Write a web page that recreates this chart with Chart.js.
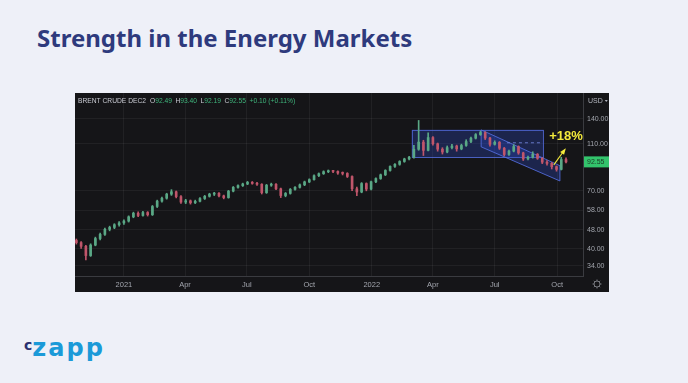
<!DOCTYPE html>
<html><head><meta charset="utf-8">
<script src="https://cdn.jsdelivr.net/npm/chart.js@4.4.0/dist/chart.umd.min.js"></script>
<style>
html,body{margin:0;padding:0;}
body{width:688px;height:383px;background:#eef0f8;position:relative;overflow:hidden;font-family:"Noto Sans",sans-serif;}
#title{position:absolute;left:37px;top:26px;font-size:24px;line-height:24px;font-weight:700;color:#2e3a7d;white-space:nowrap;}
#box{position:absolute;left:75px;top:93px;width:534px;height:199px;background:#151518;}
#logo{position:absolute;left:24px;top:334px;white-space:nowrap;font-family:"DejaVu Sans",sans-serif;font-weight:700;}
#logo .c{font-size:14px;color:#2b3170;vertical-align:6px;}
#logo .z{font-size:24px;color:#1b9ad8;letter-spacing:2px;}
</style></head>
<body>
<div id="title">Strength in the Energy Markets</div>
<div id="box"><canvas id="c" width="534" height="199"></canvas></div>
<div id="logo"><span class="c">c</span><span class="z">zapp</span></div>
<script>
// weekly candles, x = days from 2021-01-01
const firstDay = -70, stepDays = 7;
const open = [43.4,42.5,41.0,37.5,41.5,44.2,46.0,48.3,49.2,50.5,
51.4,52.3,54.5,56.4,55.2,56.8,55.6,60.2,63.4,65.2,
67.8,69.4,66.2,62.8,63.6,62.4,63.3,65.0,66.4,67.8,
68.4,66.7,65.6,69.8,72.4,73.6,74.8,76.0,75.2,74.6,
68.8,73.9,74.6,71.4,66.9,68.3,71.0,72.4,74.2,76.3,
78.0,81.0,82.6,84.2,84.9,84.4,83.1,82.8,80.4,71.4,
69.2,75.1,71.2,76.4,78.8,81.7,85.2,88.6,90.4,92.9,
95.2,96.8,104.5,112.0,103.4,117.0,110.2,104.6,101.8,106.2,
107.8,104.9,108.4,112.6,116.3,120.4,122.8,116.5,109.6,111.8,
105.6,99.4,102.7,107.3,100.9,95.2,96.8,99.6,95.8,92.3,
91.2,88.4,86.1,94.7];
const high = [44.0,42.9,41.4,42.0,44.8,46.6,48.9,49.8,51.0,52.0,
52.9,55.0,57.0,57.2,57.4,57.3,60.8,64.0,65.9,68.4,
70.8,69.9,66.8,64.5,64.1,64.0,65.6,67.0,68.4,69.0,
68.9,67.2,70.3,73.0,74.2,75.4,76.7,76.6,75.9,75.0,
74.5,75.4,75.1,71.9,68.9,71.6,73.0,74.8,76.9,78.6,
81.6,83.2,84.9,85.6,85.4,84.9,84.0,83.4,80.9,72.6,
75.8,75.6,77.0,79.4,82.3,85.8,89.2,91.0,93.6,95.9,
97.6,108.5,138.0,114.0,122.5,118.2,111.0,106.1,107.9,109.6,
108.8,109.8,114.6,117.6,121.6,124.6,123.8,117.3,113.4,112.6,
106.4,103.6,109.2,108.0,101.6,97.8,102.0,100.3,96.5,93.8,
92.0,89.0,96.8,96.2];
const low = [41.9,40.2,36.0,37.2,41.2,43.6,45.5,47.6,48.6,49.8,
50.6,51.8,54.0,54.6,54.8,54.9,55.2,59.6,62.8,64.6,
67.0,65.4,62.0,61.9,61.6,61.9,62.9,64.4,65.9,66.9,
66.0,64.8,65.2,69.3,71.8,73.0,74.3,74.6,73.8,67.9,
68.3,73.1,70.8,65.6,66.1,67.8,70.4,71.9,73.6,75.8,
77.5,80.3,82.0,83.4,83.5,82.1,81.6,79.6,70.2,66.8,
68.7,70.0,70.7,75.8,78.2,81.1,84.6,87.8,89.6,92.2,
94.3,96.0,103.5,98.4,102.8,108.6,102.6,99.8,101.0,104.8,
102.6,104.0,107.5,111.4,115.4,119.5,114.8,107.6,108.8,104.3,
98.0,98.6,101.9,99.6,93.8,94.4,96.0,94.8,91.0,89.6,
86.4,84.6,85.6,91.6];
const close = [42.5,41.0,37.5,41.5,44.2,46.0,48.3,49.2,50.5,51.4,
52.3,54.5,56.4,55.2,56.8,55.6,60.2,63.4,65.2,67.8,
69.4,66.2,62.8,63.6,62.4,63.3,65.0,66.4,67.8,68.4,
66.7,65.6,69.8,72.4,73.6,74.8,76.0,75.2,74.6,68.8,
73.9,74.6,71.4,66.9,68.3,71.0,72.4,74.2,76.3,78.0,
81.0,82.6,84.2,84.9,84.4,83.1,82.8,80.4,71.4,69.2,
75.1,71.2,76.4,78.8,81.7,85.2,88.6,90.4,92.9,95.2,
96.8,104.5,112.0,103.4,117.0,110.2,104.6,101.8,106.2,107.8,
104.9,108.4,112.6,116.3,120.4,122.8,116.5,109.6,111.8,105.6,
99.4,102.7,107.3,100.9,95.2,96.8,99.6,95.8,92.3,91.2,
88.4,86.1,94.7,92.55];
const xTickDays = [0, 90, 181, 273, 365, 455, 546, 638];
const xTickLabels = ['2021','Apr','Jul','Oct','2022','Apr','Jul','Oct'];
const yTicks = [34, 40, 48, 58, 70, 110, 140];
const headerName = 'BRENT CRUDE DEC2';
const headerValues = [['O','92.49'],['H','93.40'],['L','92.19'],['C','92.55'],['','+0.10 (+0.11%)']];
const lastPrice = 92.55;
const currency = 'USD';
// annotations in data coordinates [day, price]
const rangeBox = {x0:424, x1:617, y0:97, y1:126};
const midLine = {x0:564, x1:617, y:111.8};
const channel = [[526,126],[642,89.2],[642,77.0],[526,107]];
const arrow = {from:[633,89.9], to:[649,104]};
const arrowLabel = {text:'+18%', at:[651,118]};

const days = open.map((_, i) => firstDay + stepDays * i);
const UP = '#5aa886', DOWN = '#c0566b';
const col = c => (close[c.dataIndex] >= open[c.dataIndex] ? UP : DOWN);
const FONT = '"Liberation Sans", Arial, sans-serif';

const overlay = {
  id: 'overlay',
  beforeDatasetsDraw(chart) {
    const {ctx, chartArea: a, scales: {x, y}} = chart;
    const px = v => x.getPixelForValue(v), py = v => y.getPixelForValue(v);
    ctx.save();
    ctx.beginPath(); ctx.rect(a.left, a.top, a.right - a.left, a.bottom - a.top); ctx.clip();
    ctx.fillStyle = 'rgba(45,70,190,0.32)';
    ctx.strokeStyle = 'rgba(85,110,225,0.85)';
    ctx.lineWidth = 1;
    const bx = px(rangeBox.x0), by = py(rangeBox.y1);
    const bw = px(rangeBox.x1) - bx, bh = py(rangeBox.y0) - by;
    ctx.fillRect(bx, by, bw, bh); ctx.strokeRect(bx + 0.5, by + 0.5, bw, bh);
    ctx.beginPath();
    channel.forEach((p, i) => { const X = px(p[0]), Y = py(p[1]); i ? ctx.lineTo(X, Y) : ctx.moveTo(X, Y); });
    ctx.closePath(); ctx.fill(); ctx.stroke();
    ctx.setLineDash([3, 3]);
    ctx.strokeStyle = 'rgba(120,140,230,0.8)';
    ctx.beginPath(); ctx.moveTo(px(midLine.x0), py(midLine.y) + 0.5); ctx.lineTo(px(midLine.x1), py(midLine.y) + 0.5); ctx.stroke();
    ctx.restore();
  },
  afterDatasetsDraw(chart) {
    const {ctx, scales: {x, y}} = chart;
    const px = v => x.getPixelForValue(v), py = v => y.getPixelForValue(v);
    ctx.save();
    const x1 = px(arrow.from[0]), y1 = py(arrow.from[1]), x2 = px(arrow.to[0]), y2 = py(arrow.to[1]);
    ctx.strokeStyle = '#f3ea3c'; ctx.fillStyle = '#f3ea3c'; ctx.lineWidth = 1.1;
    ctx.beginPath(); ctx.moveTo(x1, y1); ctx.lineTo(x2, y2); ctx.stroke();
    const ang = Math.atan2(y2 - y1, x2 - x1);
    ctx.beginPath(); ctx.moveTo(x2 + Math.cos(ang) * 2, y2 + Math.sin(ang) * 2);
    ctx.lineTo(x2 - Math.cos(ang - 0.5) * 5, y2 - Math.sin(ang - 0.5) * 5);
    ctx.lineTo(x2 - Math.cos(ang + 0.5) * 5, y2 - Math.sin(ang + 0.5) * 5);
    ctx.closePath(); ctx.fill();
    ctx.font = 'bold 13px ' + FONT;
    ctx.textAlign = 'center'; ctx.textBaseline = 'middle';
    ctx.fillText(arrowLabel.text, px(arrowLabel.at[0]), py(arrowLabel.at[1]));
    ctx.restore();
  },
  afterDraw(chart) {
    const {ctx, chartArea: a, scales: {y}} = chart;
    ctx.save();
    ctx.font = '6.7px ' + FONT;
    ctx.textBaseline = 'middle'; ctx.textAlign = 'left';
    let cx = 3; const cy = 8;
    ctx.fillStyle = '#c9cbd3'; ctx.fillText(headerName, cx, cy); cx += ctx.measureText(headerName).width + 4;
    headerValues.forEach(([k, v]) => {
      if (k) { ctx.fillStyle = '#c9cbd3'; ctx.fillText(k, cx, cy); cx += ctx.measureText(k).width; }
      ctx.fillStyle = '#3fb57c'; ctx.fillText(v, cx, cy); cx += ctx.measureText(v).width + 3.5;
    });
    ctx.font = '7px ' + FONT;
    ctx.fillStyle = '#b2b5be';
    ctx.fillText(currency, a.right + 5, cy);
    const uw = ctx.measureText(currency).width;
    ctx.beginPath(); ctx.moveTo(a.right + 7 + uw, cy - 1); ctx.lineTo(a.right + 10 + uw, cy - 1); ctx.lineTo(a.right + 8.5 + uw, cy + 1); ctx.closePath(); ctx.fill();
    const ly = y.getPixelForValue(lastPrice);
    ctx.fillStyle = '#33c46c';
    ctx.fillRect(a.right + 1, ly - 5.5, 25, 11);
    ctx.fillStyle = '#1d3a27';
    ctx.fillText(lastPrice.toFixed(2), a.right + 4, ly + 0.5);
    const gx = a.right + 14, gy = a.bottom + 8;
    ctx.strokeStyle = '#77797f'; ctx.lineWidth = 1;
    ctx.beginPath(); ctx.arc(gx, gy, 3, 0, Math.PI * 2); ctx.stroke();
    for (let k = 0; k < 8; k++) {
      const t = k * Math.PI / 4;
      ctx.beginPath(); ctx.moveTo(gx + Math.cos(t) * 3, gy + Math.sin(t) * 3); ctx.lineTo(gx + Math.cos(t) * 4.5, gy + Math.sin(t) * 4.5); ctx.stroke();
    }
    ctx.restore();
  }
};

new Chart(document.getElementById('c'), {
  type: 'bar',
  data: {
    datasets: [
      {label: 'range', data: days.map((d, i) => ({x: d, y: [low[i], high[i]]})), backgroundColor: col, barThickness: 1, grouped: false, order: 2},
      {label: 'body', data: days.map((d, i) => ({x: d, y: [open[i], close[i]]})), backgroundColor: col, barThickness: 2, minBarLength: 1, grouped: false, order: 1}
    ]
  },
  options: {
    responsive: false, animation: false, events: [],
    layout: {padding: 0},
    plugins: {legend: {display: false}, tooltip: {enabled: false}},
    scales: {
      x: {
        type: 'linear', min: -72, max: 676, offset: false,
        afterBuildTicks: s => { s.ticks = xTickDays.map(v => ({value: v})); },
        afterFit: s => { s.height = 16; s.paddingLeft = 0; s.paddingRight = 0; },
        ticks: {color: '#a3a6ae', font: {size: 7.5, family: FONT}, padding: 4, maxRotation: 0,
          callback: (v) => { const k = xTickDays.indexOf(v); return k >= 0 ? xTickLabels[k] : ''; }},
        grid: {color: 'rgba(255,255,255,0.055)', drawTicks: false, offset: false},
        border: {display: true, color: '#3a3b40'}
      },
      y: {
        type: 'logarithmic', position: 'right', min: 30.8, max: 179.8,
        afterBuildTicks: s => { s.ticks = yTicks.map(v => ({value: v})); },
        afterFit: s => { s.width = 26; s.paddingTop = 0; s.paddingBottom = 0; },
        ticks: {color: '#a3a6ae', font: {size: 7, family: FONT}, padding: 4,
          callback: v => Number(v).toFixed(2)},
        grid: {color: 'rgba(255,255,255,0.055)', drawTicks: false},
        border: {display: true, color: '#3a3b40'}
      }
    }
  },
  plugins: [overlay]
});
</script>
</body></html>
